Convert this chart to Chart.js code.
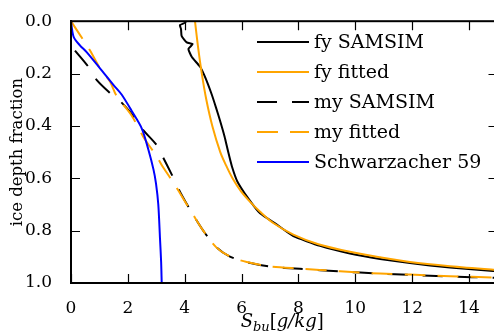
<!DOCTYPE html>
<html><head><meta charset="utf-8">
<script src="https://cdn.jsdelivr.net/npm/chart.js@4.4.0/dist/chart.umd.min.js"></script>
<style>html,body{margin:0;padding:0;overflow:hidden;background:#fff;width:494px;height:336px}canvas{display:block}</style>
</head><body><canvas id="c" width="512" height="336"></canvas>
<script>
const xTicks = [0, 2, 4, 6, 8, 10, 12, 14];
const yTicks = [0, 0.2, 0.4, 0.6, 0.8, 1.0];
const seriesLabels = ['fy SAMSIM', 'fy fitted', 'my SAMSIM', 'my fitted', 'Schwarzacher 59'];

const fySamsimX = [4.05, 4.01, 3.83, 3.87, 3.89, 4.07, 4.28, 4.13, 4.25, 4.54, 4.71, 4.95, 5.1, 5.24, 5.4, 5.53, 5.66, 5.85, 6.24, 6.65, 7.24, 7.82, 8.76, 9.81, 10.87, 11.92, 13.33, 14.85, 15.2];
const fySamsimY = [0.0, 0.006, 0.015, 0.03, 0.056, 0.081, 0.087, 0.106, 0.137, 0.174, 0.212, 0.28, 0.33, 0.379, 0.44, 0.5, 0.555, 0.612, 0.678, 0.734, 0.777, 0.821, 0.858, 0.887, 0.908, 0.924, 0.941, 0.954, 0.956];

const fyFittedX = [4.36, 4.47, 4.6, 4.76, 4.97, 5.25, 5.45, 5.68, 5.98, 6.3, 6.65, 7.1, 7.82, 8.7, 9.81, 10.87, 11.92, 13.33, 14.85, 15.2];
const fyFittedY = [0.0, 0.1, 0.2, 0.3, 0.4, 0.5, 0.55, 0.6, 0.65, 0.69, 0.728, 0.77, 0.815, 0.852, 0.881, 0.902, 0.92, 0.936, 0.949, 0.951];

const mySamsimX = [0.14, 0.61, 0.9, 1.37, 1.78, 2.13, 2.49, 3.01, 3.19, 3.54, 3.85, 4.3, 4.65, 5.12, 5.59, 6.18, 7.0, 8.05, 9.46, 10.87, 11.92, 13.33, 14.85, 15.2];
const mySamsimY = [0.112, 0.174, 0.224, 0.274, 0.311, 0.354, 0.41, 0.473, 0.51, 0.585, 0.655, 0.74, 0.8, 0.864, 0.899, 0.92, 0.937, 0.946, 0.956, 0.964, 0.969, 0.975, 0.98, 0.981];

const myFittedX = [0, 0.41, 0.67, 1.02, 1.37, 1.6, 2.13, 2.54, 3.01, 3.25, 3.6, 3.95, 4.3, 4.65, 5.12, 5.59, 6.18, 7.0, 8.05, 9.46, 10.87, 11.92, 13.33, 14.85, 15.2];
const myFittedY = [0, 0.068, 0.112, 0.18, 0.23, 0.285, 0.36, 0.441, 0.516, 0.56, 0.616, 0.678, 0.74, 0.8, 0.865, 0.899, 0.92, 0.937, 0.945, 0.955, 0.964, 0.968, 0.974, 0.979, 0.98];

const schwX = [0, 0.02, 0.1, 0.32, 0.55, 1.02, 1.49, 1.78, 2.13, 2.49, 2.72, 2.9, 2.99, 3.07, 3.13, 3.17, 3.19];
const schwY = [0, 0.02, 0.062, 0.093, 0.118, 0.18, 0.243, 0.28, 0.342, 0.41, 0.49, 0.566, 0.62, 0.70, 0.83, 0.92, 1.0];

const pts = (xs, ys) => xs.map((x, i) => ({x: x, y: ys[i]}));
const FONT = '"DejaVu Serif", "Liberation Serif", serif';

const ds = [
  {label: seriesLabels[0], data: pts(fySamsimX, fySamsimY), borderColor: '#000000', borderWidth: 2, tension: 0.15, order: 5},
  {label: seriesLabels[1], data: pts(fyFittedX, fyFittedY), borderColor: '#FFA500', borderWidth: 2, tension: 0.3, order: 4},
  {label: seriesLabels[2], data: pts(mySamsimX, mySamsimY), borderColor: '#000000', borderWidth: 2, borderDash: [20, 15], tension: 0.3, order: 3},
  {label: seriesLabels[3], data: pts(myFittedX, myFittedY), borderColor: '#FFA500', borderWidth: 2, borderDash: [21, 12], tension: 0.3, order: 2},
  {label: seriesLabels[4], data: pts(schwX, schwY), borderColor: '#0000FF', borderWidth: 2, tension: 0.3, order: 1}
].map(d => Object.assign({showLine: true, pointRadius: 0, fill: false, borderCapStyle: 'butt'}, d));

const framePlugin = {
  id: 'frame',
  afterDatasetsDraw(chart) {
    const {ctx, chartArea: a, scales} = chart;
    ctx.save();
    ctx.strokeStyle = '#000';
    ctx.lineWidth = 1.2;
    ctx.beginPath();
    scales.x.ticks.forEach(t => {
      const px = Math.round(scales.x.getPixelForValue(t.value)) + 0.5;
      ctx.moveTo(px, a.bottom); ctx.lineTo(px, a.bottom - 9);
      ctx.moveTo(px, a.top); ctx.lineTo(px, a.top + 9);
    });
    scales.y.ticks.forEach(t => {
      const py = Math.round(scales.y.getPixelForValue(t.value)) + 0.5;
      ctx.moveTo(a.left, py); ctx.lineTo(a.left + 9, py);
      ctx.moveTo(a.right, py); ctx.lineTo(a.right - 9, py);
    });
    ctx.stroke();
    ctx.lineWidth = 2;
    ctx.strokeRect(a.left, a.top, a.right - a.left, a.bottom - a.top);
    ctx.restore();
  },
  afterDraw(chart) {
    const {ctx, chartArea: a} = chart;
    ctx.save();
    ctx.textBaseline = 'middle';
    ctx.textAlign = 'left';
    ctx.font = '19px ' + FONT;
    chart.data.datasets.forEach((d, i) => {
      const y = 42 + 30 * i;
      ctx.strokeStyle = d.borderColor;
      ctx.lineWidth = 2;
      ctx.setLineDash(d.borderDash || []);
      ctx.beginPath(); ctx.moveTo(257, y); ctx.lineTo(309, y); ctx.stroke();
      ctx.setLineDash([]);
      ctx.fillStyle = '#000';
      ctx.fillText(d.label, 314, y + 1);
    });
    const big = 'italic 18px ' + FONT, bigUp = '18px ' + FONT, small = 'italic 13px ' + FONT;
    const parts = [['S', big, 0], ['bu', small, 4], ['[', bigUp, 0], ['g/kg', big, 0], [']', bigUp, 0]];
    let w = 0;
    parts.forEach(p => { ctx.font = p[1]; w += ctx.measureText(p[0]).width; });
    let x = (a.left + a.right) / 2 - w / 2 - 2;
    ctx.textBaseline = 'alphabetic';
    parts.forEach(p => { ctx.font = p[1]; ctx.fillText(p[0], x, 327 + p[2]); x += ctx.measureText(p[0]).width; });
    ctx.restore();
  }
};

new Chart(document.getElementById('c'), {
  type: 'scatter',
  data: {datasets: ds},
  options: {
    responsive: false,
    animation: false,
    events: [],
    layout: {padding: {left: 0, top: 15, right: 14.5, bottom: 0}},
    plugins: {legend: {display: false}, tooltip: {enabled: false}},
    scales: {
      x: {
        type: 'linear', min: 0, max: 15,
        afterBuildTicks: s => { s.ticks = xTicks.map(v => ({value: v})); },
        afterFit: s => { s.height = 53; },
        grid: {display: false},
        border: {display: true, color: '#000', width: 2},
        ticks: {color: '#000', font: {family: FONT, size: 17}, padding: 7, maxRotation: 0, callback: v => String(v)}
      },
      y: {
        type: 'linear', min: 0, max: 1, reverse: true,
        afterBuildTicks: s => { s.ticks = yTicks.map(v => ({value: v})); },
        afterFit: s => { s.width = 71; },
        grid: {display: false},
        border: {display: true, color: '#000', width: 2},
        title: {display: true, text: 'ice depth fraction', color: '#000', font: {family: FONT, size: 16.5}, padding: {top: 8, bottom: 0}},
        ticks: {color: '#000', font: {family: FONT, size: 17}, padding: 11, callback: v => Number(v).toFixed(1)}
      }
    }
  },
  plugins: [framePlugin]
});
</script></body></html>
